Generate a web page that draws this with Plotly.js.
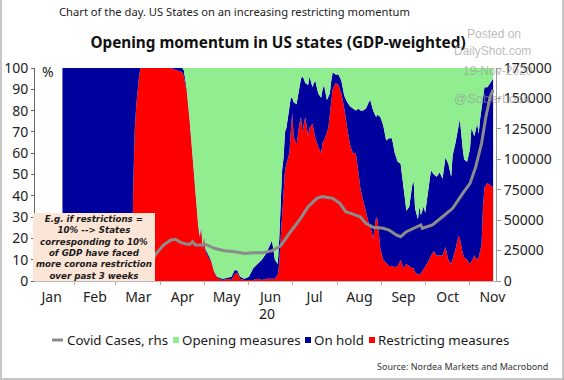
<!DOCTYPE html>
<html><head><meta charset="utf-8">
<script src="https://cdn.plot.ly/plotly-3.0.1.min.js"></script>
<style>
html,body{margin:0;padding:0;background:#fff}
#wrap{position:relative;width:564px;height:380px}
#chart{width:564px;height:380px}
#frame{position:absolute;left:0;top:0;width:564px;height:380px;box-sizing:border-box;border:2px solid #c6c6c6;border-top:none;pointer-events:none}
</style>
</head><body><div id="wrap"><div id="chart"></div><div id="frame"></div></div>
<script>
// ---- data (GDP-weighted share of US states, %) ----
const dates = ["2020-01-24","2020-03-12","2020-03-13","2020-03-14","2020-03-15","2020-03-16","2020-03-17","2020-03-18","2020-04-08","2020-04-12",
"2020-04-16","2020-04-17","2020-04-19","2020-04-21","2020-04-23","2020-04-25","2020-04-27","2020-04-28","2020-04-29","2020-04-30",
"2020-05-01","2020-05-02","2020-05-04","2020-05-06","2020-05-08","2020-05-10","2020-05-14","2020-05-18","2020-05-20","2020-05-22",
"2020-05-24","2020-05-26","2020-05-29","2020-06-01","2020-06-04","2020-06-07","2020-06-10","2020-06-13","2020-06-16","2020-06-17",
"2020-06-19","2020-06-21","2020-06-22","2020-06-23","2020-06-24","2020-06-25","2020-06-26","2020-06-27","2020-06-29","2020-06-30",
"2020-07-01","2020-07-02","2020-07-04","2020-07-06","2020-07-07","2020-07-08","2020-07-09","2020-07-10","2020-07-12","2020-07-13",
"2020-07-15","2020-07-16","2020-07-17","2020-07-19","2020-07-21","2020-07-22","2020-07-23","2020-07-25","2020-07-26","2020-07-27",
"2020-07-28","2020-07-29","2020-07-31","2020-08-02","2020-08-04","2020-08-06","2020-08-08","2020-08-10","2020-08-12","2020-08-14",
"2020-08-16","2020-08-17","2020-08-19","2020-08-21","2020-08-23","2020-08-24","2020-08-26","2020-08-28","2020-08-29","2020-08-31",
"2020-09-02","2020-09-04","2020-09-06","2020-09-08","2020-09-10","2020-09-12","2020-09-14","2020-09-16","2020-09-18","2020-09-20",
"2020-09-22","2020-09-23","2020-09-24","2020-09-26","2020-09-27","2020-09-28","2020-09-30","2020-10-01","2020-10-03","2020-10-05",
"2020-10-07","2020-10-09","2020-10-11","2020-10-13","2020-10-15","2020-10-17","2020-10-19","2020-10-20","2020-10-22","2020-10-24",
"2020-10-25","2020-10-27","2020-10-28","2020-10-30","2020-11-01","2020-11-02","2020-11-04","2020-11-06","2020-11-07","2020-11-08",
"2020-11-09","2020-11-10","2020-11-11","2020-11-13","2020-11-15","2020-11-17"];

const restricting = [0,0,45,70,82,91,96,100,100,99,
98,96,89,75,58,38,25,20,25,15,
21,14,11,9,4,1.5,0.5,1,0.5,3,
4,1,0.5,0.5,0.5,1,0.5,1,1,1,
1,3,8,20,30,41,52,55,60,70,
79,68,64,74,77,70,73,77,68,72,
74,70,67,63,60,65,66,70,72,78,
86,90,93,92,88,81,72,64,60,60,
50,44,38,32,27,26,20,30,29,15,
10,8.5,7,7,6.5,7,10,6,8,7,
6,6,4,3,3,3.5,5.5,7,9,12,
14,12,12,12,16,10,8,10,15,21,
20,13,11,10,8,9,12,10,11,14,
17,35,44,46,45,44];

const onHold = [100,100,55,30,18,9,4,0,0,1,
2,3,1,1,1,1,1,1,1,1,
1,1,1,0.5,0.5,0.5,0.5,0.5,1.5,2,
1,1,0.5,1.5,5.5,7,9.5,12,16,18,
9,5,12,20,22,17,18,17,20,16,
7,16,19,16,18,26,22,16,24,24,
17,23,27,25,26,25,26,15,15,10,
8,8,4,5,6,6,12,18,21,20,
31,36,42,49,57,59,60,47,49,62,
63,57.5,60,60,53.5,49,45,38,25,28,
39,41,30,26,32,27.5,29.5,25,32,40,
36,37,39,36,42,45,41,49,50,51,
56,49,46,46,54,63,56,64,58,62,
65,53,47,45,48,51];

const opening = [0,0,0,0,0,0,0,0,0,0,
0,1,10,24,41,61,74,79,74,84,
78,85,88,90.5,95.5,98,99,98.5,98,95,
95,98,99,98,94,92,90,87,83,81,
90,92,80,60,48,42,30,28,20,14,
14,16,17,10,5,4,5,7,8,4,
9,7,6,12,14,10,8,15,13,12,
6,2,3,3,6,13,16,18,19,20,
19,20,20,19,16,15,20,23,22,23,
27,34,33,33,40,44,45,56,67,65,
55,53,66,71,65,69,65,68,59,48,
50,51,49,52,42,45,51,41,35,28,
24,38,43,44,38,28,32,26,31,24,
18,12,9,9,7,5];

// ---- Covid cases (rhs) ----
const caseDates = ["2020-03-04","2020-03-10","2020-03-15","2020-03-20","2020-03-25","2020-03-29","2020-04-03","2020-04-08","2020-04-11","2020-04-15",
"2020-04-19","2020-04-21","2020-04-23","2020-04-25","2020-04-29","2020-05-03","2020-05-08","2020-05-15","2020-05-22","2020-05-29",
"2020-06-04","2020-06-11","2020-06-17","2020-06-23","2020-06-29","2020-07-06","2020-07-12","2020-07-18","2020-07-22","2020-07-29",
"2020-08-03","2020-08-07","2020-08-12","2020-08-17","2020-08-21","2020-08-26","2020-09-02","2020-09-06","2020-09-11","2020-09-14",
"2020-09-18","2020-09-23","2020-09-28","2020-09-29","2020-10-06","2020-10-13","2020-10-20","2020-10-27","2020-11-01","2020-11-05",
"2020-11-09","2020-11-12","2020-11-15","2020-11-17"];
const covidCases = [100,700,2500,8000,14500,22700,29600,33700,34300,31500,
30400,30000,32300,29600,29600,29600,26900,24900,24100,22700,
23300,23300,24900,28800,39200,50100,61000,67900,69300,67900,
63800,57000,55000,52800,47400,44100,43300,41900,37800,36400,
40500,43300,46000,43300,46000,52800,59700,72000,80200,93900,
113100,135000,151400,157000];

const rhsTicks = [0,25000,50000,75000,100000,125000,150000,175000];
const legendLabels = ["Covid Cases, rhs","Opening measures","On hold","Restricting measures"];
const boxLines = ["E.g. if restrictions =","10% --> States","corresponding to 10%","of GDP have faced","more corona restriction","over past 3 weeks"];

// ---- styling ----
const FONT = "Noto Sans, Open Sans, DejaVu Sans, sans-serif";
const C_RED = "#ff0000", C_BLUE = "#00009c", C_GREEN = "#90ee90", C_GREY = "#8c8c8c";
const W = 564, H = 380, L = 35, R = 68, T = 68, B = 99;
const pw = W - L - R, ph = H - T - B;
const px = x => (x - L) / pw;          // pixel -> paper x
const py = y => (H - B - y) / ph;      // pixel -> paper y

const traces = [
  {x: dates, y: restricting, stackgroup: "pct", mode: "lines", line: {width: 0}, fillcolor: C_RED, hoverinfo: "skip", showlegend: false},
  {x: dates, y: onHold, stackgroup: "pct", mode: "lines", line: {width: 0}, fillcolor: C_BLUE, hoverinfo: "skip", showlegend: false},
  {x: dates, y: opening, stackgroup: "pct", mode: "lines", line: {width: 0}, fillcolor: C_GREEN, hoverinfo: "skip", showlegend: false},
  {x: caseDates, y: covidCases, yaxis: "y2", mode: "lines", line: {color: C_GREY, width: 3}, hoverinfo: "skip", showlegend: false}
];

const shapes = [
  {type: "rect", xref: "paper", yref: "paper", x0: px(33), x1: px(155), y0: py(281), y1: py(213), fillcolor: "#fbe5d6", line: {width: 0}, layer: "above"},
  // legend symbols
  {type: "line", xref: "paper", yref: "paper", x0: px(52), x1: px(63), y0: py(340), y1: py(340), line: {color: C_GREY, width: 3}},
  {type: "rect", xref: "paper", yref: "paper", x0: px(173), x1: px(179), y0: py(337), y1: py(343), fillcolor: C_GREEN, line: {width: 0}},
  {type: "rect", xref: "paper", yref: "paper", x0: px(305), x1: px(311), y0: py(337), y1: py(343), fillcolor: C_BLUE, line: {width: 0}},
  {type: "rect", xref: "paper", yref: "paper", x0: px(369), x1: px(375), y0: py(337), y1: py(343), fillcolor: C_RED, line: {width: 0}}
];

const ann = [];
const A = (x, y, text, o) => ann.push(Object.assign({xref: "paper", yref: "paper", x: px(x), y: py(y), text: text, showarrow: false,
  xanchor: "left", yanchor: "middle", font: {family: FONT, size: 14, color: "#1a1a1a"}}, o || {}));

A(57, 12, "Chart of the day. US States on an increasing restricting momentum", {font: {family: FONT, size: 11.2, color: "#222"}});
A(40, 71, "%", {font: {family: FONT, size: 14, color: "#1a1a1a"}});
A(267, 313, "20", {xanchor: "center"});
// watermark
const wm = {family: "Liberation Sans, Arial, sans-serif", size: 12, color: "rgba(150,150,150,0.65)"};
A(494, 34, "Posted on", {xanchor: "center", font: wm});
A(492, 51, "DailyShot.com", {xanchor: "center", font: wm});
A(498, 71, "19-Nov-2020", {xanchor: "center", font: wm});
A(492, 98, "@SoberLook", {xanchor: "center", font: Object.assign({}, wm, {size: 13})});
// legend texts
const lgFont = {family: FONT, size: 13.3, color: "#1a1a1a"};
A(65, 340, legendLabels[0], {font: lgFont});
A(180, 340, legendLabels[1], {font: lgFont});
A(312, 340, legendLabels[2], {font: lgFont});
A(376, 340, legendLabels[3], {font: lgFont});
// source
A(550, 366, "Source: Nordea Markets and Macrobond", {xanchor: "right", font: {family: FONT, size: 9, color: "#333"}});
// annotation box text (one multi-line block)
A(94, 247, "<b><i>" + boxLines.join("<br>") + "</i></b>", {xanchor: "center", align: "center", borderpad: 0,
  font: {family: "DejaVu Sans, sans-serif", size: 8.7, color: "#1a1a1a"}});

const axFont = {family: FONT, size: 14, color: "#222"};
const layout = {
  width: W, height: H,
  margin: {l: L, r: R, t: T, b: B, pad: 0},
  paper_bgcolor: "#fff", plot_bgcolor: "#fff",
  title: {text: "Opening momentum in US states (GDP-weighted)", x: 278 / W, xanchor: "center", xref: "container",
          y: 1 - 43 / H, yanchor: "middle", yref: "container", font: {family: FONT, size: 15.3, color: "#111", weight: "bold"}},
  showlegend: false,
  xaxis: {type: "date", range: ["2020-01-05", "2020-11-19"], tick0: "2020-01-01", dtick: "M1", tickformat: "%b",
          ticklabelmode: "period", ticks: "outside", ticklen: 3, tickcolor: "#aaa", showline: true, linecolor: "#bbb",
          showgrid: false, zeroline: false, tickfont: axFont, fixedrange: true},
  yaxis: {range: [0, 100], dtick: 10, ticks: "outside", ticklen: 3, tickcolor: "#666", showline: true, linecolor: "#666",
          showgrid: false, zeroline: false, tickfont: axFont, fixedrange: true},
  yaxis2: {overlaying: "y", side: "right", range: [0, 175000], tickvals: rhsTicks, tickformat: "d", ticks: "outside",
           ticklen: 4, tickcolor: "#999", showline: true, linecolor: "#999", showgrid: false, zeroline: false,
           tickfont: axFont, fixedrange: true},
  shapes: shapes,
  annotations: ann
};

Plotly.newPlot("chart", traces, layout, {staticPlot: true, displayModeBar: false});
</script>
</body></html>
